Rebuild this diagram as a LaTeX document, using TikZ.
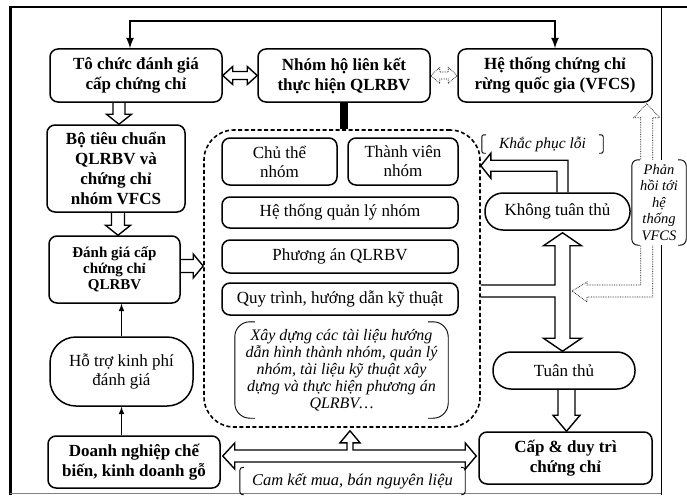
\documentclass[tikz,border=0pt]{standalone}
\usepackage{fontspec}
\setmainfont{Liberation Serif}
\usetikzlibrary{arrows}
\usetikzlibrary{calc}
\tikzset{bt/.style={font=\fontsize{17}{20}\selectfont\bfseries}}
\tikzset{rt/.style={font=\fontsize{17}{19}\selectfont}}
\tikzset{ita/.style={font=\fontsize{16}{17}\selectfont\itshape}}
\tikzset{
box/.style={draw, line width=1.5pt, rounded corners=8pt, align=center, inner sep=0pt},
pill/.style={draw, line width=1.5pt, rounded corners=#1, align=center, inner sep=0pt},
wh/.style 2 args={minimum width=#1pt, minimum height=#2pt},
grp/.style={draw, line width=1.6pt, dash pattern=on 4pt off 2.5pt, rounded corners=30pt},
blk/.style={line width=1.4pt, line join=miter},
fb/.style={line width=.7pt, densely dotted},
link/.style={line width=2.5pt, latex-latex}
}
% hollow arrows: start, end, half shaft, half head, head length
\newcommand{\vblock}[5]{%
  \draw[blk] let \p1=#1, \p2=#2, \n1={ifthenelse(\y2>\y1,1,-1)} in
    ({\x1-#3},{\y1}) -- ({\x1-#3},{\y2-(\n1)*#5}) -- ({\x1-#4},{\y2-(\n1)*#5}) -- ({\x1},{\y2})
    -- ({\x1+#4},{\y2-(\n1)*#5}) -- ({\x1+#3},{\y2-(\n1)*#5}) -- ({\x1+#3},{\y1});}
\newcommand{\hblock}[5]{%
  \draw[blk] let \p1=#1, \p2=#2, \n1={ifthenelse(\x2>\x1,1,-1)} in
    ({\x1},{\y1-#3}) -- ({\x2-(\n1)*#5},{\y1-#3}) -- ({\x2-(\n1)*#5},{\y1-#4}) -- ({\x2},{\y1})
    -- ({\x2-(\n1)*#5},{\y1+#4}) -- ({\x2-(\n1)*#5},{\y1+#3}) -- ({\x1},{\y1+#3});}
\newcommand{\hdblock}[6][blk]{%
  \draw[#1] let \p1=#2, \p2=#3 in
    ({\x1},{\y1}) -- ({\x1+#6},{\y1+#5}) -- ({\x1+#6},{\y1+#4}) -- ({\x2-#6},{\y1+#4}) -- ({\x2-#6},{\y1+#5})
    -- ({\x2},{\y1}) -- ({\x2-#6},{\y1-#5}) -- ({\x2-#6},{\y1-#4}) -- ({\x1+#6},{\y1-#4}) -- ({\x1+#6},{\y1-#5}) -- cycle;}
% bracket sides round a node: node, reach, radius
\newcommand{\brk}[3]{%
  \draw[line width=.9pt, rounded corners=#3] ([xshift=#2]#1.north west) -- (#1.north west) -- (#1.south west) -- ([xshift=#2]#1.south west);
  \draw[line width=.9pt, rounded corners=#3] ([xshift=-#2]#1.north east) -- (#1.north east) -- (#1.south east) -- ([xshift=-#2]#1.south east);}

\begin{document}
\begin{tikzpicture}[x=1pt,y=-1pt]
  \useasboundingbox (0,0) rectangle (687,495);
  % frame
  \draw[line width=3pt] (10,7) -- (10,495);
  \draw[line width=2pt] (9,7) -- (687,7);
  \draw[line width=1pt] (661,7) -- (661,495);
  \draw[line width=.6pt, black!50] (10,493) -- (661,493);

  % top row
  \node[box, bt, wh={172}{53}] (tochuc) at (136,75.5) {Tô chức đánh giá\\cấp chứng chỉ};
  \node[box, bt, wh={172}{53}] (nhomho) at (344,75.5) {Nhóm hộ liên kết\\thực hiện QLRBV};
  \node[box, bt, wh={194}{53}] (vfcs) at (555,75.5) {Hệ thống chứng chỉ\\rừng quốc gia (VFCS)};
  \coordinate (topline) at (0,21);
  \draw[link] (vfcs.north) -- (vfcs.north |- topline) -| ([xshift=-6pt]tochuc.north);
  \hdblock{(tochuc.east)}{(nhomho.west)}{4pt}{9pt}{10pt}
  \hdblock[fb]{(nhomho.east)}{(vfcs.west)}{3.5pt}{8pt}{9pt}

  % left column
  \node[box, bt, wh={138}{87}] (botieu) at (116,168.5) {Bộ tiêu chuẩn\\QLRBV và\\chứng chỉ\\nhóm VFCS};
  \node[box, bt, font=\fontsize{15}{16}\selectfont\bfseries, wh={131}{67}] (danhgia) at (114.5,269.5) {Đánh giá cấp\\chứng chỉ\\QLRBV};
  \node[pill=26pt, rt, wh={143}{69}] (hotro) at (121.5,371.5) {Hỗ trợ kinh phí\\đánh giá};
  \node[box, bt, wh={172}{52}] (doanhnghiep) at (134,462) {Doanh nghiệp chế\\biến, kinh doanh gỗ};
  \vblock{([xshift=-17pt]tochuc.south)}{(botieu.north)}{6pt}{12.5pt}{10pt}
  \vblock{([xshift=2pt]botieu.south)}{(danhgia.north)}{6.5pt}{12.5pt}{10pt}
  \draw[line width=1.5pt, -latex] (hotro.north) -- (hotro.north |- danhgia.south);
  \draw[line width=1.5pt, -latex] (doanhnghiep.north -| hotro.north) -- (hotro.south);

  % group
  \node[grp, wh={276}{297}] (grp) at (342,278.5) {};
  \draw[line width=8pt] (nhomho.south) -- (nhomho.south |- grp.north);
  \node[box, rt, wh={115}{47}] (chuthe) at (279.5,161.5) {Chủ thể\\nhóm};
  \node[box, rt, wh={110}{47}] (thanhvien) at (403,161.5) {Thành viên\\nhóm};
  \node[box, rt, wh={236}{31}] (hethong) at (340,212.5) {Hệ thống quản lý nhóm};
  \node[box, rt, wh={236}{33}] (phuongan) at (340,256.5) {Phương án QLRBV};
  \node[box, rt, wh={236}{32}] (quytrinh) at (340,299) {Quy trình, hướng dẫn kỹ thuật};
  \node[ita, align=center, inner sep=0pt, wh={213}{96}] (xaydung) at (341.5,370)
    {Xây dựng các tài liệu hướng\\dẫn hình thành nhóm, quản lý\\nhóm, tài liệu kỹ thuật xây\\dựng và thực hiện phương án\\QLRBV…};
  \brk{xaydung}{20pt}{15pt}
  \hblock{([yshift=3.5pt]danhgia.east)}{(grp.west)}{6.5pt}{12pt}{10pt}

  % right column
  \node[pill=18pt, rt, wh={145}{37}] (khongtt) at (557.5,211.5) {Không tuân thủ};
  \node[pill=18pt, rt, wh={142}{37}] (tuanthu) at (564,370.5) {Tuân thủ};
  \node[box, bt, wh={173}{52}] (cap) at (565.5,458) {Cấp \& duy trì\\chứng chỉ};
  \node[ita, font=\fontsize{15.5}{16}\selectfont\itshape, inner sep=0pt, wh={121}{18}] (khacphuc) at (542.5,144) {Khắc phục lỗi};
  \brk{khacphuc}{4pt}{2pt}
  \draw[blk] let \p1=([xshift=5pt]khongtt.north), \p2=(grp.east) in
    ({\x1-5.5pt},{\y1}) -- ({\x1-5.5pt},{\y1+21pt}) -- ({\x2+10pt},{\y1+21pt}) -- ({\x2+10pt},{\y1+14pt})
    -- ({\x2},{\y1+26.5pt}) -- ({\x2+10pt},{\y1+39pt}) -- ({\x2+10pt},{\y1+32pt}) -- ({\x1+5.5pt},{\y1+32pt}) -- ({\x1+5.5pt},{\y1});
  \draw[blk] let \p1=([xshift=5pt]khongtt.south), \p2=(tuanthu.north), \p3=(grp.east), \p4=(quytrinh.east) in
    ({\x3},{\y4+14pt}) -- ({\x1-7.5pt},{\y4+14pt}) -- ({\x1-7.5pt},{\y1-15pt}) -- ({\x1-19pt},{\y1-15pt})
    -- ({\x1},{\y1-2pt}) -- ({\x1+19pt},{\y1-15pt}) -- ({\x1+7.5pt},{\y1-15pt}) -- ({\x1+7.5pt},{\y2+13pt})
    -- ({\x1+19pt},{\y2+13pt}) -- ({\x1},{\y2}) -- ({\x1-19pt},{\y2+13pt}) -- ({\x1-7.5pt},{\y2+13pt})
    -- ({\x1-7.5pt},{\y4+2pt}) -- ({\x3},{\y4+2pt});
  \draw[fb] let \p1=([xshift=5pt]khongtt.south), \p2=(vfcs.south east), \p3=(quytrinh.east) in
    ({\x1+9.5pt},{\y3+8pt}) -- ({\x1+24.5pt},{\y3+17pt}) -- ({\x1+24.5pt},{\y3+14pt}) -- ({\x2-12pt},{\y3+14pt})
    -- ({\x2-12pt},{\y2-15pt}) -- ({\x2-19pt},{\y2-15pt}) -- ({\x2-6pt},{\y2-1pt}) -- ({\x2+7pt},{\y2-15pt})
    -- ({\x2},{\y2-15pt}) -- ({\x2},{\y3+2pt}) -- ({\x1+24.5pt},{\y3+2pt}) -- ({\x1+24.5pt},{\y3-3pt}) -- cycle;
  \vblock{([xshift=2.5pt]tuanthu.south)}{(cap.north)}{8.5pt}{13.5pt}{16pt}
  \node[ita, fill=white, align=center, inner sep=0pt, font=\fontsize{14.5}{16.5}\selectfont\itshape, wh={54}{85}] (phanhoi) at (659,202.5)
    {Phản\\hồi tới\\hệ\\thống\\VFCS};
  \brk{phanhoi}{8pt}{6pt}

  % bottom
  \draw[blk] let \p1=(doanhnghiep.east), \p2=(cap.west), \p3=(grp.south) in
    ({\x1+2pt},{\y2+2pt}) -- ({\x1+14pt},{\y2+15pt}) -- ({\x1+14pt},{\y2+8pt}) -- ({\x3+5pt},{\y2+8pt})
    -- ({\x3+5pt},{\y3-15pt}) -- ({\x3-2pt},{\y3-15pt}) -- ({\x3+8pt},{\y3-3pt}) -- ({\x3+18pt},{\y3-15pt})
    -- ({\x3+11pt},{\y3-15pt}) -- ({\x3+11pt},{\y2+8pt}) -- ({\x2-13pt},{\y2+8pt}) -- ({\x2-13pt},{\y2+15pt})
    -- ({\x2-2pt},{\y2+2pt}) -- ({\x2-13pt},{\y2-11pt}) -- ({\x2-13pt},{\y2-4pt}) -- ({\x1+14pt},{\y2-4pt})
    -- ({\x1+14pt},{\y2-11pt}) -- cycle;
  \node[ita, font=\fontsize{16.5}{18}\selectfont\itshape, inner sep=0pt, wh={225}{27}] (camket) at (352.5,481) {Cam kết mua, bán nguyên liệu};
  \brk{camket}{4pt}{3pt}
\end{tikzpicture}
\end{document}
